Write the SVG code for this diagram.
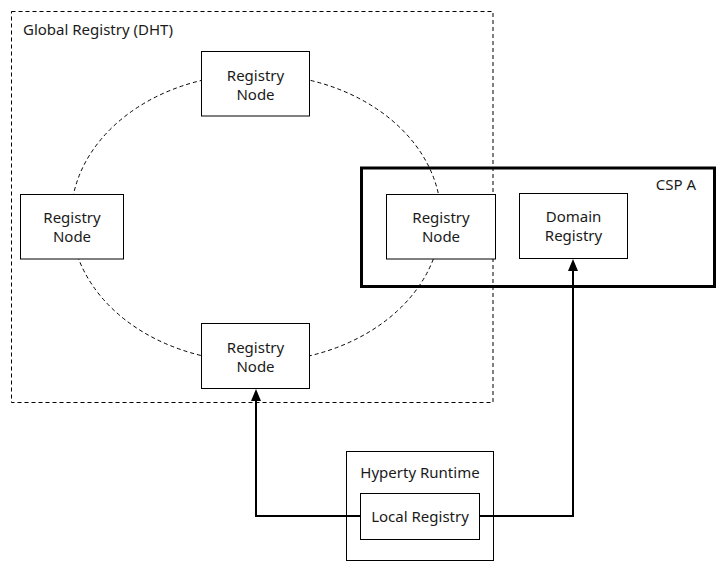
<svg xmlns="http://www.w3.org/2000/svg" width="727" height="573" viewBox="0 0 727 573">
<style>
text{font-family:"Noto Sans","Open Sans",sans-serif;font-size:15px;fill:#1a1a1a}
.c{text-anchor:middle}
.box{fill:#fff;stroke:#000;stroke-width:1}
.dash{fill:none;stroke:#000;stroke-width:1;stroke-dasharray:4 3}
.edge{fill:none;stroke:#000;stroke-width:2}
</style>
<defs>
<marker id="arr" markerWidth="10" markerHeight="12" refX="5" refY="11" orient="0" markerUnits="userSpaceOnUse" viewBox="0 0 10 12">
<path d="M0,12 L5,0 L10,12 Z" fill="#000"/>
</marker>
</defs>
<rect width="727" height="573" fill="#fff"/>
<g id="global-registry">
<rect class="dash" x="11.5" y="11.5" width="481.5" height="391"/>
<text x="23" y="35">Global Registry (DHT)</text>
</g>
<g id="ring">
<ellipse class="dash" cx="256" cy="218" rx="185" ry="144"/>
</g>
<g id="csp-a">
<rect x="361.5" y="168" width="353" height="118.5" fill="none" stroke="#000" stroke-width="3"/>
<text x="696" y="190" text-anchor="end">CSP A</text>
</g>
<g id="node-top">
<rect class="box" x="201.5" y="51.5" width="108" height="64.5"/>
<text class="c" x="255.5" y="80.5">Registry</text>
<text class="c" x="255.5" y="100">Node</text>
</g>
<g id="node-left">
<rect class="box" x="20.5" y="194.5" width="103" height="64.5"/>
<text class="c" x="72" y="222.5">Registry</text>
<text class="c" x="72" y="242">Node</text>
</g>
<g id="node-right">
<rect class="box" x="386.5" y="194.5" width="109" height="64.5"/>
<text class="c" x="441" y="222.5">Registry</text>
<text class="c" x="441" y="242">Node</text>
</g>
<g id="domain-registry">
<rect class="box" x="519.5" y="193.5" width="108" height="65"/>
<text class="c" x="573.5" y="221.5">Domain</text>
<text class="c" x="573.5" y="241">Registry</text>
</g>
<g id="node-bottom">
<rect class="box" x="201.5" y="323.5" width="108" height="65"/>
<text class="c" x="255.5" y="352.5">Registry</text>
<text class="c" x="255.5" y="372">Node</text>
</g>
<g id="hyperty-runtime">
<rect class="box" x="346.5" y="451.5" width="147" height="109"/>
<text class="c" x="420" y="478">Hyperty Runtime</text>
</g>
<g id="local-registry">
<rect class="box" x="360.5" y="493.5" width="119" height="46"/>
<text class="c" x="420" y="522">Local Registry</text>
</g>
<g id="connectors">
<polyline class="edge" points="360,516 256,516 256,400" marker-end="url(#arr)"/>
<polyline class="edge" points="480,516 573,516 573,270" marker-end="url(#arr)"/>
</g>
</svg>
